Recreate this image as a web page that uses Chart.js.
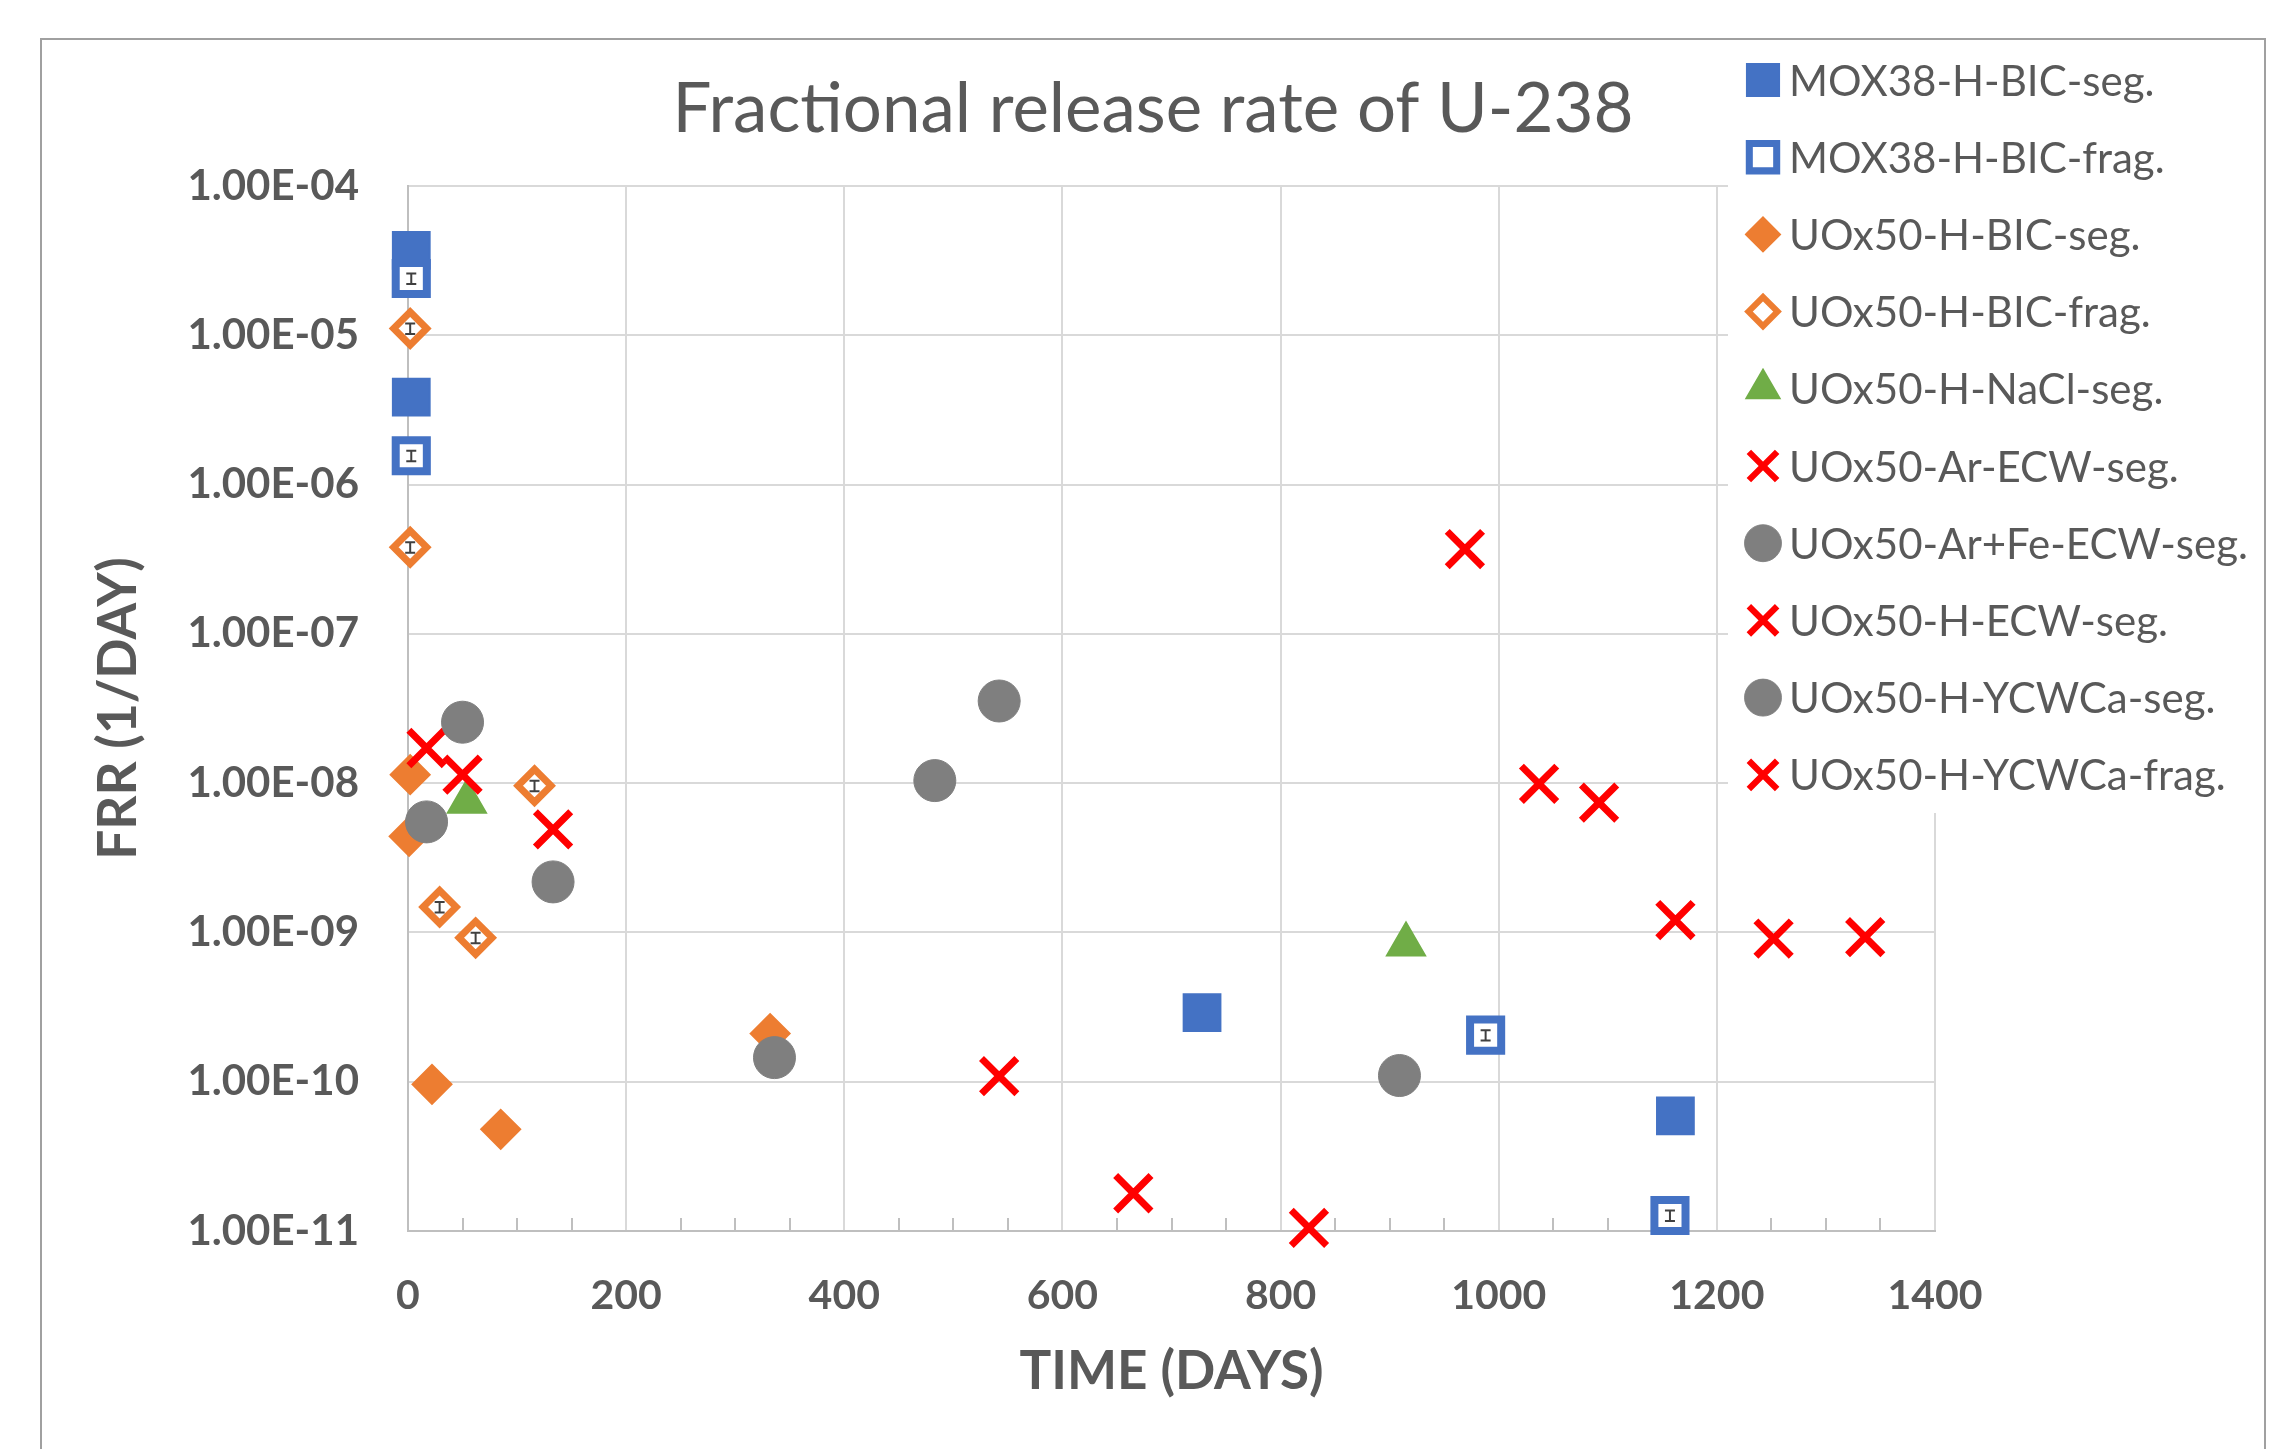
<!DOCTYPE html>
<html>
<head>
<meta charset="utf-8">
<script src="https://cdn.jsdelivr.net/npm/chart.js@4.4.0/dist/chart.umd.min.js"></script>
<style>
  html, body { margin: 0; padding: 0; background: #fff; }
  #wrap { position: relative; width: 2284px; height: 1449px; }
</style>
</head>
<body>
<div id="wrap"><canvas id="mycanvas" width="2284" height="1449"></canvas></div>
<script>
// values: time (days) and FRR (1/day)
let mox38SegDays = [3, 3, 728, 1162];
let mox38SegFrr = [3.7e-5, 3.85e-6, 2.9e-10, 5.9e-11];

let mox38FragDays = [3, 3, 988, 1157];
let mox38FragFrr = [2.4e-5, 1.56e-6, 2.05e-10, 1.27e-11];
let mox38FragErr = [0.08, 0.08, 0.08, 0.08];

let uoxBicSegDays = [2, 1, 22, 85, 332];
let uoxBicSegFrr = [1.14e-8, 4.4e-9, 9.6e-11, 4.8e-11, 2.1e-10];

let uoxBicFragDays = [2, 2, 29, 62, 116];
let uoxBicFragFrr = [1.11e-5, 3.8e-7, 1.48e-9, 9.2e-10, 9.6e-9];
let uoxBicFragErr = [0.08, 0.08, 0.08, 0.08, 0.08];

let uoxNaclDays = [54, 915];
let uoxNaclFrr = [7.5e-9, 8.3e-10];

let uoxArEcwDays = [17, 50, 133];
let uoxArEcwFrr = [1.72e-8, 1.14e-8, 4.9e-9];

let uoxArFeEcwDays = [17, 50, 133];
let uoxArFeEcwFrr = [5.5e-9, 2.56e-8, 2.18e-9];

let uoxHEcwDays = [542, 665, 826, 969];
let uoxHEcwFrr = [1.09e-10, 1.79e-11, 1.05e-11, 3.7e-7];

let uoxYcwSegDays = [336, 483, 542, 909];
let uoxYcwSegFrr = [1.45e-10, 1.04e-8, 3.55e-8, 1.1e-10];

let uoxYcwFragDays = [1037, 1092, 1162, 1252, 1336];
let uoxYcwFragFrr = [9.9e-9, 7.4e-9, 1.21e-9, 9.1e-10, 9.3e-10];

let seriesLabels = [
    "MOX38-H-BIC-seg.", "MOX38-H-BIC-frag.", "UOx50-H-BIC-seg.", "UOx50-H-BIC-frag.",
    "UOx50-H-NaCl-seg.", "UOx50-Ar-ECW-seg.", "UOx50-Ar+Fe-ECW-seg.", "UOx50-H-ECW-seg.",
    "UOx50-H-YCWCa-seg.", "UOx50-H-YCWCa-frag."
];
let timeTicks = [0, 200, 400, 600, 800, 1000, 1200, 1400];
let frrTicks = [1e-4, 1e-5, 1e-6, 1e-7, 1e-8, 1e-9, 1e-10, 1e-11];
let minorStep = 50;

const BLUE = "#4472C4", ORANGE = "#ED7D31", GREEN = "#70AD47", GREY = "#7F7F7F", RED = "#FF0000";
const TXT = "#595959";

function pts(xs, ys) {
    let out = [];
    for (let i in xs) out.push({x: xs[i], y: ys[i]});
    return out;
}

function sci(v) {
    let parts = v.toExponential(2).split("e");
    let n = parseInt(parts[1]);
    return parts[0] + "E" + (n < 0 ? "-" : "+") + String(Math.abs(n)).padStart(2, "0");
}

function series(idx, xs, ys, style, radius, fill, stroke, bw, err) {
    return {
        label: seriesLabels[idx],
        data: pts(xs, ys),
        pointStyle: style,
        pointRadius: radius,
        pointHoverRadius: radius,
        pointBackgroundColor: fill,
        pointBorderColor: stroke,
        pointBorderWidth: bw,
        backgroundColor: fill,
        borderColor: stroke,
        showLine: false,
        clip: false,
        order: 20 - idx,
        errFrac: err
    };
}

let chartdata = {
    datasets: [
        series(0, mox38SegDays, mox38SegFrr, "rect", 26, BLUE, BLUE, 2),
        series(1, mox38FragDays, mox38FragFrr, "rect", 22, "#fff", BLUE, 8, mox38FragErr),
        series(2, uoxBicSegDays, uoxBicSegFrr, "rectRot", 19.5, ORANGE, ORANGE, 2),
        series(3, uoxBicFragDays, uoxBicFragFrr, "rectRot", 16.5, "#fff", ORANGE, 7, uoxBicFragErr),
        series(4, uoxNaclDays, uoxNaclFrr, "triangle", 22, GREEN, GREEN, 2),
        series(5, uoxArEcwDays, uoxArEcwFrr, "crossRot", 25, RED, RED, 7),
        series(6, uoxArFeEcwDays, uoxArFeEcwFrr, "circle", 21, GREY, GREY, 1),
        series(7, uoxHEcwDays, uoxHEcwFrr, "crossRot", 25, RED, RED, 7),
        series(8, uoxYcwSegDays, uoxYcwSegFrr, "circle", 21, GREY, GREY, 1),
        series(9, uoxYcwFragDays, uoxYcwFragFrr, "crossRot", 25, RED, RED, 7)
    ]
};

// outer frame of the chart object + title
const framePlugin = {
    id: "frame",
    beforeDraw(chart) {
        let ctx = chart.ctx;
        ctx.save();
        ctx.strokeStyle = "#a0a0a0";
        ctx.lineWidth = 2;
        ctx.strokeRect(41, 39, 2224, 1500);
        ctx.fillStyle = TXT;
        ctx.font = "69px Lato";
        ctx.textAlign = "center";
        ctx.textBaseline = "middle";
        ctx.fillText("Fractional release rate of U-238", 1153, 110);
        ctx.restore();
    }
};

// small inside tick marks on the time axis
const minorTicksPlugin = {
    id: "minorTicks",
    beforeDatasetsDraw(chart) {
        let ctx = chart.ctx, xs = chart.scales.x, bottom = chart.chartArea.bottom;
        ctx.save();
        ctx.strokeStyle = "#bfbfbf";
        ctx.lineWidth = 2;
        for (let v = xs.min + minorStep; v < xs.max; v += minorStep) {
            if (v % 200 === 0) continue;
            let px = Math.round(xs.getPixelForValue(v));
            ctx.beginPath();
            ctx.moveTo(px, bottom);
            ctx.lineTo(px, bottom - 13);
            ctx.stroke();
        }
        ctx.restore();
    }
};

// tiny error bars inside the hollow markers
const errorBarPlugin = {
    id: "errBars",
    afterDatasetsDraw(chart) {
        let ctx = chart.ctx, ys = chart.scales.y;
        ctx.save();
        ctx.strokeStyle = "#404040";
        ctx.lineWidth = 2;
        chart.data.datasets.forEach((ds, i) => {
            if (!ds.errFrac) return;
            let meta = chart.getDatasetMeta(i);
            meta.data.forEach((el, j) => {
                let v = ds.data[j].y, e = ds.errFrac[j];
                let yTop = ys.getPixelForValue(v * (1 + e));
                let yBot = ys.getPixelForValue(v * (1 - e));
                ctx.beginPath();
                ctx.moveTo(el.x, yTop); ctx.lineTo(el.x, yBot);
                ctx.moveTo(el.x - 5, yTop); ctx.lineTo(el.x + 5, yTop);
                ctx.moveTo(el.x - 5, yBot); ctx.lineTo(el.x + 5, yBot);
                ctx.stroke();
            });
        });
        ctx.restore();
    }
};

// legend box drawn over the upper right of the plot
const legendPlugin = {
    id: "sideLegend",
    afterDraw(chart) {
        let ctx = chart.ctx;
        ctx.save();
        ctx.fillStyle = "#fff";
        ctx.fillRect(1728, 41, 2262 - 1728, 813 - 41);
        chart.data.datasets.forEach((ds, i) => {
            let y = 80 + i * 77.2;
            let k = ds.pointStyle === "crossRot" ? 0.8 : 0.88;
            ctx.fillStyle = ds.pointBackgroundColor;
            ctx.strokeStyle = ds.pointBorderColor;
            ctx.lineWidth = ds.pointBorderWidth * (ds.pointStyle === "crossRot" ? 0.9 : k);
            Chart.helpers.drawPoint(ctx, {
                pointStyle: ds.pointStyle,
                radius: ds.pointRadius * k,
                borderWidth: ctx.lineWidth,
                rotation: 0
            }, 1763, y);
            ctx.fillStyle = TXT;
            ctx.font = "42px Lato";
            ctx.textAlign = "left";
            ctx.textBaseline = "middle";
            ctx.fillText(ds.label, 1789, y + 2);
        });
        ctx.restore();
    }
};

let ctx = document.getElementById("mycanvas");

let ScatterGraph = new Chart(ctx, {
    type: "scatter",
    data: chartdata,
    plugins: [framePlugin, minorTicksPlugin, errorBarPlugin, legendPlugin],
    options: {
        responsive: false,
        devicePixelRatio: 1,
        animation: false,
        events: [],
        layout: { padding: { top: 186, right: 349, left: 0, bottom: 0 } },
        plugins: { legend: { display: false }, title: { display: false }, tooltip: { enabled: false } },
        scales: {
            x: {
                type: "linear",
                min: 0,
                max: 1400,
                afterBuildTicks: s => { s.ticks = timeTicks.map(v => ({value: v})); },
                afterFit: s => { s.height = 218; },
                grid: { color: "#d9d9d9", lineWidth: 2, drawTicks: false },
                border: { color: "#bfbfbf", width: 2 },
                ticks: {
                    padding: 40,
                    color: TXT,
                    font: { family: "Lato", size: 41, weight: "bold" },
                    callback: v => String(v)
                },
                title: {
                    display: true,
                    text: "TIME (DAYS)",
                    color: TXT,
                    padding: { bottom: 45 },
                    font: { family: "Lato", size: 53, weight: "bold" }
                }
            },
            y: {
                type: "logarithmic",
                min: 1e-11,
                max: 1e-4,
                afterBuildTicks: s => { s.ticks = frrTicks.map(v => ({value: v})); },
                afterFit: s => { s.width = 408; },
                grid: { color: "#d9d9d9", lineWidth: 2, drawTicks: false },
                border: { color: "#bfbfbf", width: 2 },
                ticks: {
                    padding: 49,
                    autoSkip: false,
                    color: TXT,
                    font: { family: "Lato", size: 42, weight: "bold" },
                    callback: v => sci(v)
                },
                title: {
                    display: true,
                    text: "FRR (1/DAY)",
                    color: TXT,
                    padding: { top: 87 },
                    font: { family: "Lato", size: 53, weight: "bold" }
                }
            }
        }
    }
});
</script>
</body>
</html>
